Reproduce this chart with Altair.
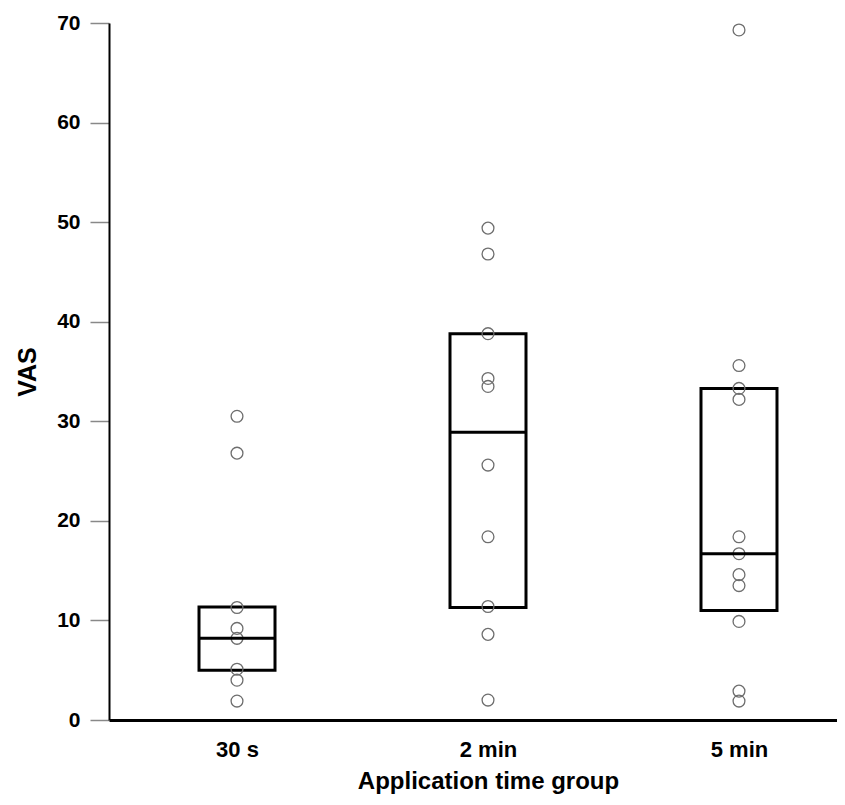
import altair as alt
import pandas as pd

groups = ["30 s", "2 min", "5 min"]
vas_30s = [30.5, 26.8, 11.3, 9.2, 8.2, 5.1, 4.0, 1.9]
vas_2min = [49.4, 46.8, 38.8, 34.3, 33.5, 25.6, 18.4, 11.4, 8.6, 2.0]
vas_5min = [69.3, 35.6, 33.3, 32.2, 18.4, 16.7, 14.6, 13.5, 9.9, 2.9, 1.9]
box_q1 = [5.0, 11.3, 11.0]
box_median = [8.2, 28.9, 16.7]
box_q3 = [11.35, 38.8, 33.3]

points = pd.DataFrame(
    [{"group": groups[0], "VAS": v} for v in vas_30s]
    + [{"group": groups[1], "VAS": v} for v in vas_2min]
    + [{"group": groups[2], "VAS": v} for v in vas_5min]
)
boxes = pd.DataFrame({"group": groups, "q1": box_q1, "median": box_median, "q3": box_q3})

FONT = "Liberation Sans, Arial, Helvetica, sans-serif"

x_enc = alt.X(
    "group:N",
    sort=groups,
    scale=alt.Scale(type="point", range=[0, 758], padding=0.51),
    axis=alt.Axis(
        title="Application time group",
        labelAngle=0,
        ticks=False,
        domainColor="black",
        domainWidth=3,
        labelPadding=19,
        titlePadding=9,
        labelFontSize=22,
        titleFontSize=24,
    ),
)
y_scale = alt.Scale(domain=[0, 70], nice=False)
y_axis = alt.Axis(
    title="VAS",
    values=[0, 10, 20, 30, 40, 50, 60, 70],
    grid=False,
    tickColor="#888888",
    tickSize=19,
    tickWidth=1.5,
    domainColor="black",
    domainWidth=2,
    labelPadding=10,
    titlePadding=16,
    labelFontSize=21,
    titleFontSize=25,
)

box = alt.Chart(boxes).mark_bar(
    size=76, fill="white", stroke="black", strokeWidth=3
).encode(
    x=x_enc,
    y=alt.Y("q1:Q", scale=y_scale, axis=y_axis),
    y2="q3:Q",
)

median = alt.Chart(boxes).mark_tick(
    size=76, thickness=3, color="black", opacity=1
).encode(
    x=alt.X("group:N", sort=groups),
    y=alt.Y("median:Q"),
)

dots = alt.Chart(points).mark_point(
    shape="circle", filled=False, size=140, stroke="#6e6e6e", strokeWidth=1.3, opacity=1
).encode(
    x=alt.X("group:N", sort=groups),
    y=alt.Y("VAS:Q"),
)

chart = (
    alt.layer(box, dots, median)
    .properties(
        width=728,
        height=697,
        padding={"left": 101, "top": 15, "right": 0, "bottom": 77},
        autosize=alt.AutoSizeParams(type="none"),
        background="white",
    )
    .configure_view(stroke=None)
    .configure_axis(
        labelFont=FONT,
        titleFont=FONT,
        labelFontWeight="bold",
        titleFontWeight="bold",
        labelColor="black",
        titleColor="black",
    )
)

chart.save("out.html", embed_options={"renderer": "svg", "actions": False})
